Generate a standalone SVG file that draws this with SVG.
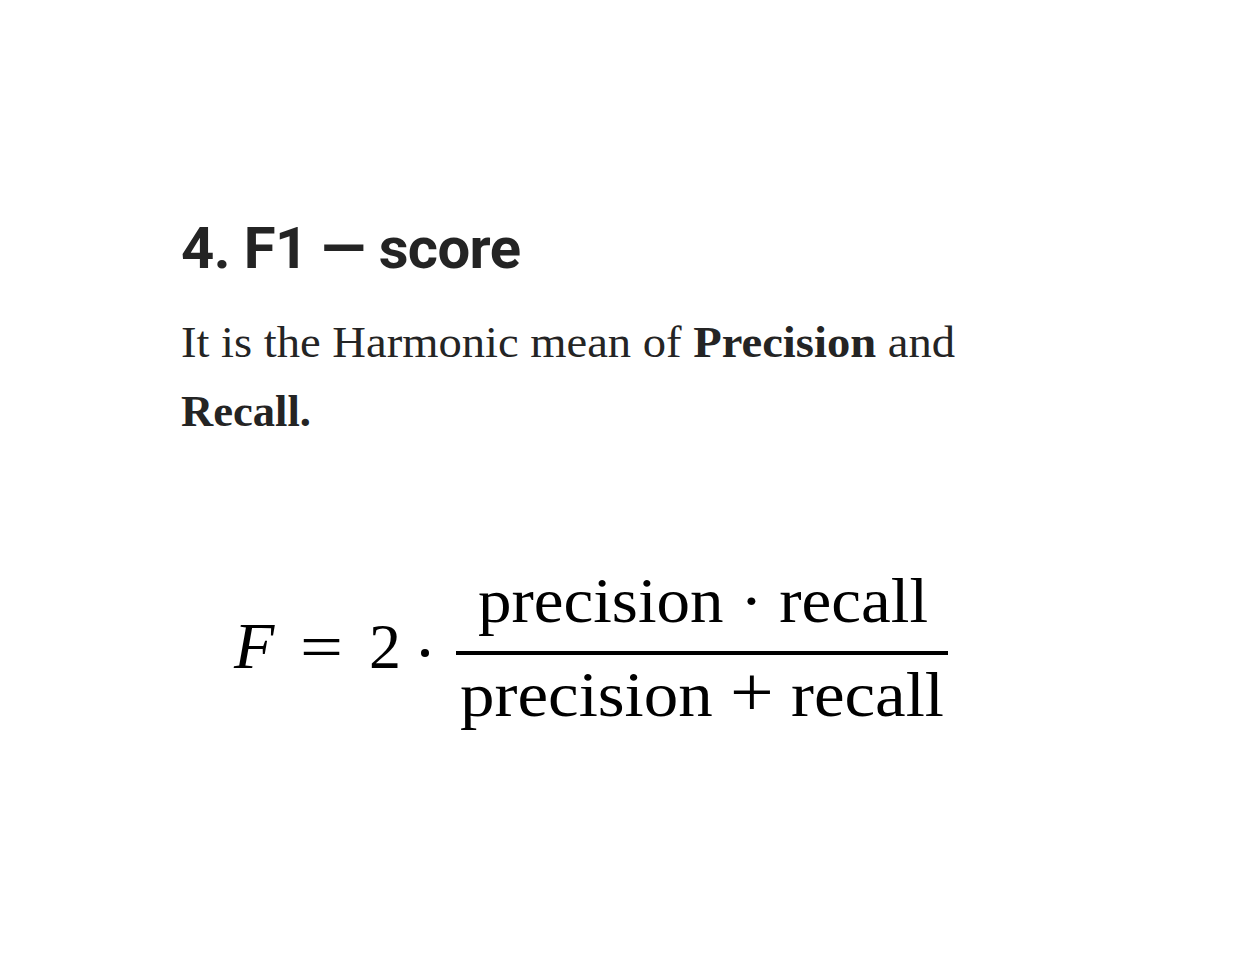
<svg xmlns="http://www.w3.org/2000/svg" width="1242" height="956" viewBox="0 0 1242 956">
<style>
.h{font-family:Roboto,"Liberation Sans",Arial,sans-serif;font-weight:bold;fill:#242424}
.b{font-family:"Liberation Serif","Times New Roman",serif;fill:#242424}
.m{font-family:"Liberation Serif","Times New Roman",serif;fill:#000}
</style>
<rect width="1242" height="956" fill="#fff"/>
<g id="title"><text class="h" x="181" y="268" font-size="58" textLength="340" lengthAdjust="spacing">4. F1 — score</text></g>
<g id="body">
<text class="b" x="181" y="357" font-size="44" textLength="774" lengthAdjust="spacingAndGlyphs">It is the Harmonic mean of <tspan font-weight="bold">Precision</tspan> and</text>
<text class="b" x="181" y="426" font-size="44" font-weight="bold" textLength="130" lengthAdjust="spacingAndGlyphs">Recall.</text>
</g>
<g id="formula">
<text class="m" x="234" y="668" font-size="66" font-style="italic">F</text>
<text class="m" x="300" y="668" font-size="64" textLength="43" lengthAdjust="spacingAndGlyphs">=</text>
<text class="m" x="369" y="668" font-size="64">2</text>
<circle cx="425" cy="653" r="4" fill="#000"/>
<rect x="456" y="651" width="492" height="4" fill="#000"/>
<text class="m" x="478" y="622" font-size="64" textLength="450" lengthAdjust="spacingAndGlyphs">precision · recall</text>
<text class="m" x="460" y="716" font-size="64" textLength="484" lengthAdjust="spacingAndGlyphs">precision <tspan font-size="72">+</tspan> recall</text>
</g>
</svg>
